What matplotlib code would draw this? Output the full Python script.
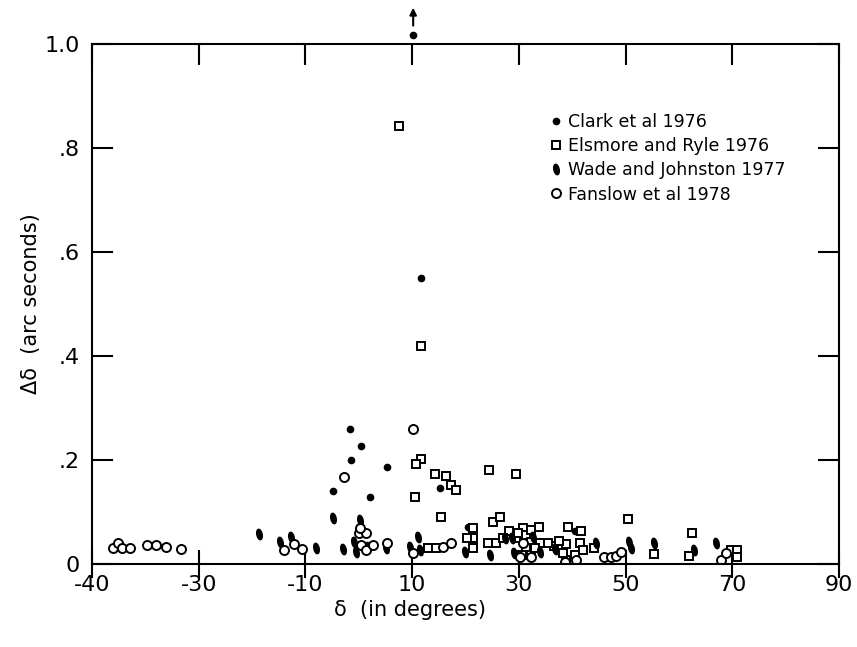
import matplotlib.pyplot as plt
import numpy as np
from matplotlib.path import Path

# x positions on a uniform 20-degree scale; leftmost tick is labelled -40 in the original
xtick_pos = [-50, -30, -10, 10, 30, 50, 70, 90]
xtick_lab = ['-40', '-30', '-10', '10', '30', '50', '70', '90']
ytick_pos = [0, 0.2, 0.4, 0.6, 0.8, 1.0]
ytick_lab = ['0', '.2', '.4', '.6', '.8', '1.0']

# Clark et al 1976
clark_x = [-1.7, 0.5, -1.5, 5.3, 2.1, -4.8, 11.7, 15.3, 20.5, 40.5]
clark_y = [0.26, 0.227, 0.20, 0.187, 0.128, 0.141, 0.55, 0.147, 0.071, 0.064]
clark_off_x = 10.2   # off-scale point, drawn with an arrow
clark_off_y = 1.017

# Elsmore and Ryle 1976
elsm_x = [7.6, 11.7, 11.7, 10.7, 14.3, 16.4, 17.3, 18.3, 10.5, 24.5, 29.5, 15.4,
          25.2, 26.5, 21.5, 21.5, 20.3, 21.5, 13.0, 14.4, 24.3, 25.8, 28.2, 27.1,
          29.5, 30.8, 31.4, 32.3, 33.7, 32.3, 31.4, 30.5, 32.3, 34.0, 39.3, 41.7,
          38.9, 41.5, 42.1, 40.6, 38.9, 38.3, 44.0, 50.4, 55.4, 62.4, 61.8, 69.7,
          70.8, 70.8, 36.5, 35.5, 37.5, 29.8, 33.0]
elsm_y = [0.843, 0.42, 0.202, 0.192, 0.173, 0.169, 0.152, 0.142, 0.128, 0.181, 0.173, 0.091,
          0.081, 0.091, 0.069, 0.05, 0.05, 0.031, 0.031, 0.031, 0.041, 0.041, 0.063, 0.05,
          0.05, 0.069, 0.056, 0.065, 0.071, 0.043, 0.031, 0.017, 0.017, 0.04, 0.071, 0.063,
          0.038, 0.04, 0.027, 0.017, 0.008, 0.021, 0.031, 0.086, 0.019, 0.06, 0.015, 0.026,
          0.026, 0.014, 0.035, 0.04, 0.045, 0.06, 0.03]

# Wade and Johnston 1977
wade_x = [-18.7, -14.8, -12.7, -8.0, -4.8, -3.0, -0.9, 0.2, -0.5, 5.1, 9.6, 11.1,
          11.5, 20.0, 24.6, 28.8, 29.0, 32.7, 34.0, 36.7, 44.4, 50.6, 51.0, 55.3,
          62.8, 66.9, 27.5, 1.8]
wade_y = [0.058, 0.042, 0.052, 0.031, 0.088, 0.029, 0.042, 0.085, 0.023, 0.031, 0.033, 0.052,
          0.027, 0.023, 0.017, 0.05, 0.021, 0.052, 0.023, 0.029, 0.04, 0.042, 0.031, 0.04,
          0.027, 0.04, 0.05, 0.033]

# Fanslow et al 1978
fans_x = [-46.0, -45.2, -44.3, -42.8, -39.6, -38.0, -36.1, -33.3, -14.1, -12.2, -10.7, -2.8,
          0.05, 1.3, 0.3, 0.4, 1.4, 2.7, 5.3, 10.2, 10.2, 15.8, 17.3, 30.3, 32.2, 38.7,
          40.8, 45.9, 47.2, 48.3, 49.2, 67.8, 68.8, 30.8]
fans_y = [0.030, 0.040, 0.030, 0.030, 0.036, 0.036, 0.033, 0.028, 0.027, 0.038, 0.029, 0.168,
          0.06, 0.06, 0.069, 0.036, 0.027, 0.037, 0.04, 0.259, 0.021, 0.033, 0.04, 0.013, 0.013, 0.004,
          0.008, 0.013, 0.013, 0.015, 0.023, 0.008, 0.021, 0.04]

# small tilted vertical blob for Wade and Johnston
t = np.linspace(0, 2 * np.pi, 30)
ex, ey = 0.5 * np.cos(t), np.sin(t)
a = np.deg2rad(12)
blob = Path(np.column_stack([ex * np.cos(a) - ey * np.sin(a), ex * np.sin(a) + ey * np.cos(a)]), closed=True)

fig = plt.figure(figsize=(8.57, 6.47), dpi=100)
ax = fig.add_axes([0.1073, 0.1283, 0.8717, 0.8037])

ax.plot(clark_x, clark_y, 'o', ms=4.5, color='black', label='Clark et al 1976')
ax.plot(elsm_x, elsm_y, 's', ms=6, mfc='white', mec='black', mew=1.4, label='Elsmore and Ryle 1976')
ax.plot(wade_x, wade_y, ls='none', marker=blob, ms=7.5, color='black', label='Wade and Johnston 1977')
ax.plot(fans_x, fans_y, 'o', ms=6.5, mfc='white', mec='black', mew=1.4, label='Fanslow et al 1978')

ax.plot([clark_off_x], [clark_off_y], 'o', ms=4.5, color='black', clip_on=False)
ax.annotate('', xy=(clark_off_x, 1.075), xytext=(clark_off_x, 1.03),
            arrowprops=dict(arrowstyle='-|>', color='black', lw=1.5, mutation_scale=10),
            annotation_clip=False)

ax.set_xlim(-50, 90)
ax.set_ylim(0, 1.0)
ax.set_xticks(xtick_pos)
ax.set_xticklabels(xtick_lab)
ax.set_yticks(ytick_pos)
ax.set_yticklabels(ytick_lab)

for s in ax.spines.values():
    s.set_linewidth(1.5)
ax.tick_params(axis='both', which='major', labelsize=16, width=1.5, top=True, right=True,
               direction='in', length=15)
ax.tick_params(axis='x', pad=8)
ax.tick_params(axis='y', pad=9)
# bottom ticks cross the axis line
for tk in ax.xaxis.get_major_ticks():
    tk.tick1line.set_marker('|')
    tk.tick1line.set_markersize(20)

ax.set_xlabel('δ  (in degrees)', fontsize=15)
ax.xaxis.set_label_coords(0.426, -0.07)
ax.set_ylabel('Δδ  (arc seconds)', fontsize=15, labelpad=2)

ax.legend(loc='upper left', bbox_to_anchor=(0.6, 0.88), frameon=False, fontsize=12.5,
          handletextpad=0.2, handlelength=1.0, labelspacing=0.35, borderaxespad=0)

fig.savefig('out.png', dpi=100)
